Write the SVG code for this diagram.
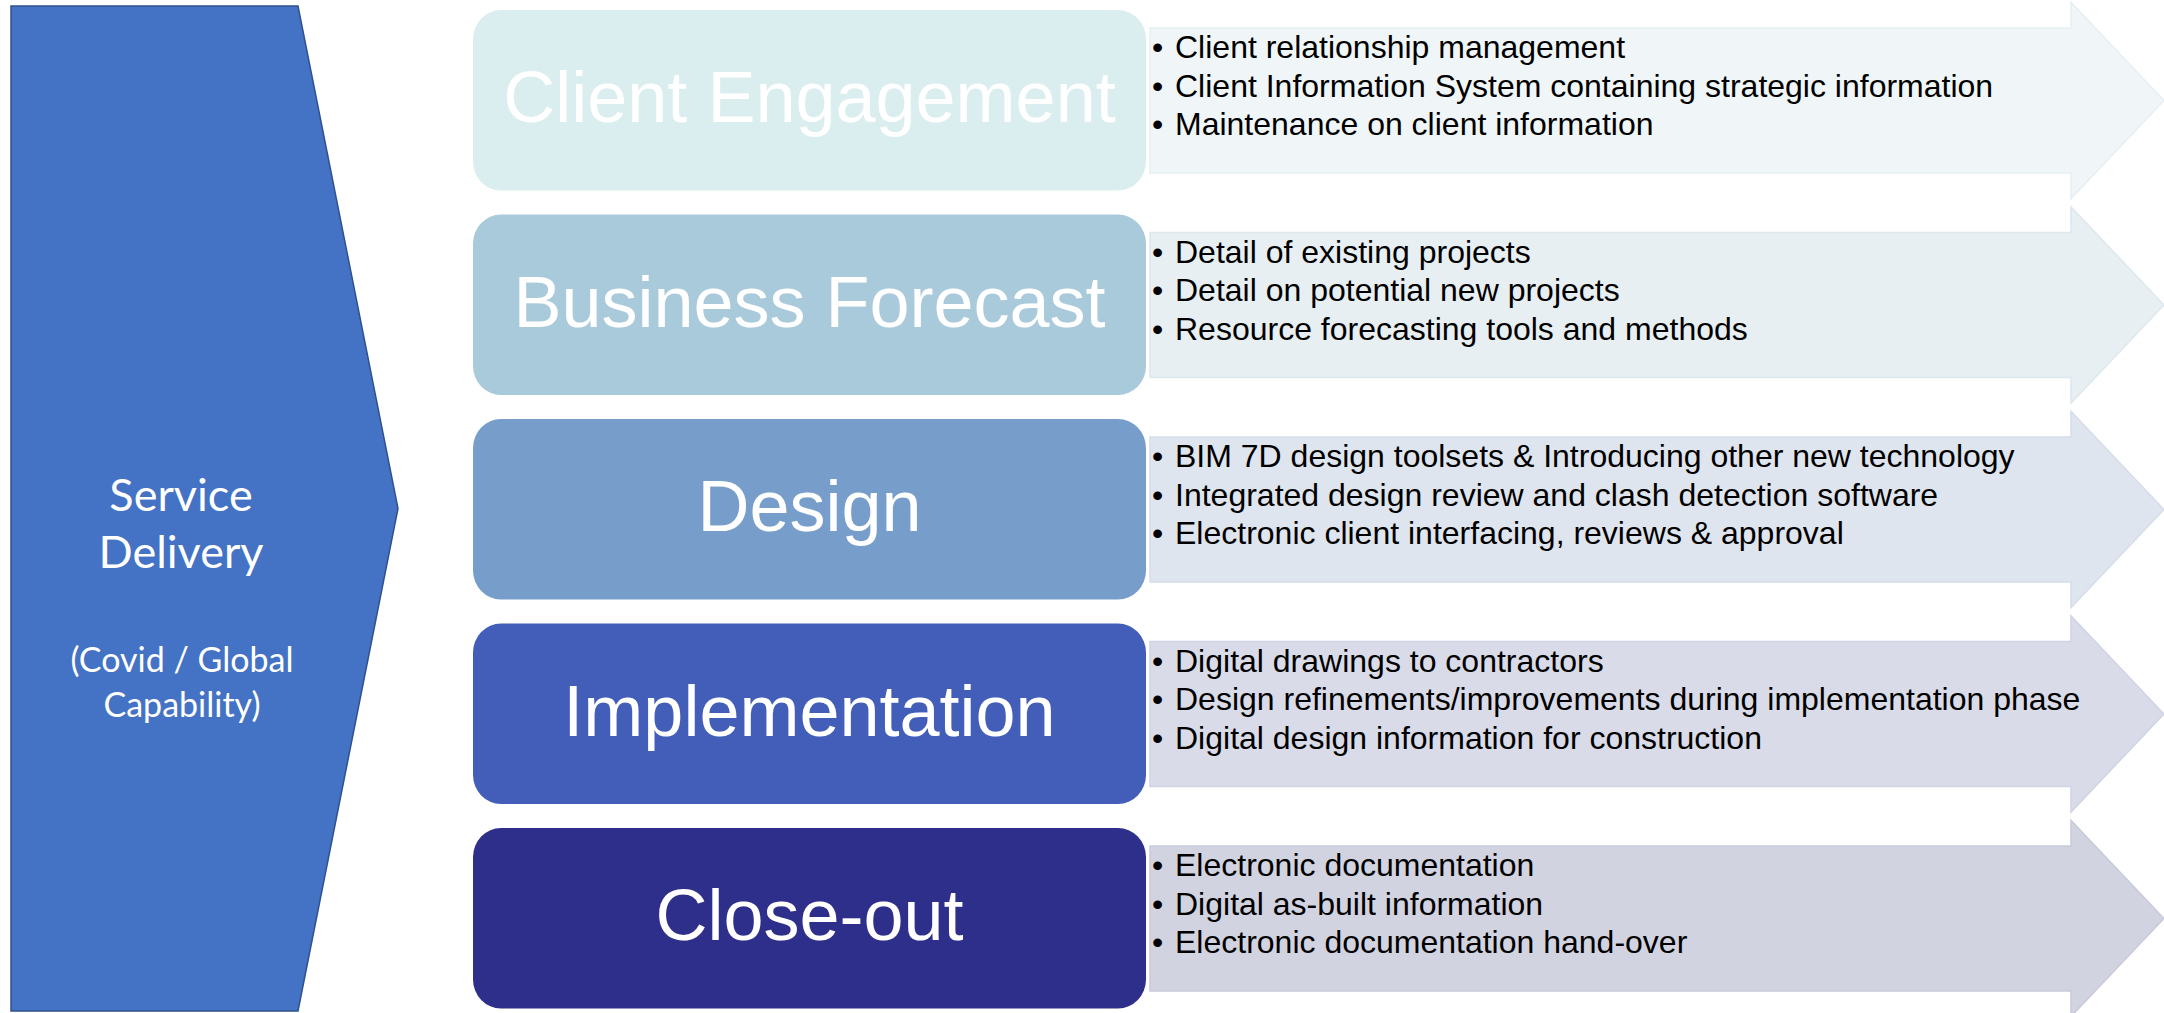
<svg xmlns="http://www.w3.org/2000/svg" width="2164" height="1013" viewBox="0 0 2164 1013">
<style>
.box-title{font-family:"Liberation Sans",Arial,sans-serif;font-size:72px;fill:#ffffff;text-anchor:middle}
.bul{font-family:"Liberation Sans",Arial,sans-serif;font-size:32px;fill:#000000}
.side1{font-family:Lato,"Open Sans",sans-serif;font-size:45px;fill:#ffffff;text-anchor:middle}
.side2{font-family:Lato,"Open Sans",sans-serif;font-size:34px;fill:#ffffff;text-anchor:middle}
.arrow{stroke-width:1.5}
</style>
<rect width="2164" height="1013" fill="#ffffff"/>
<g id="service-delivery">
<path d="M11,6 H298 L398,508.5 L298,1011 H11 Z" fill="#4472C4" stroke="#2F528F" stroke-width="1.5"/>
<text class="side1" x="181" y="511">Service</text>
<text class="side1" x="181" y="568">Delivery</text>
<text class="side2" x="182" y="672">(Covid / Global</text>
<text class="side2" x="182" y="717">Capability)</text>
</g>
<g id="connectors"></g>
<g id="arrow-1">
<path class="arrow" d="M1150,28 H2071 V2.5 L2164,100.5 L2071,198.5 V173 H1150 Z" fill="#F0F6F8" stroke="#E5EFF2"/>
<text class="bul" x="1152" y="58">•</text><text class="bul" x="1175" y="58">Client relationship management</text>
<text class="bul" x="1152" y="96.5">•</text><text class="bul" x="1175" y="96.5">Client Information System containing strategic information</text>
<text class="bul" x="1152" y="135">•</text><text class="bul" x="1175" y="135">Maintenance on client information</text>
</g>
<g id="arrow-2">
<path class="arrow" d="M1150,232.5 H2071 V207 L2164,305 L2071,403 V377.5 H1150 Z" fill="#E7EFF3" stroke="#DCE8EE"/>
<text class="bul" x="1152" y="262.5">•</text><text class="bul" x="1175" y="262.5">Detail of existing projects</text>
<text class="bul" x="1152" y="301">•</text><text class="bul" x="1175" y="301">Detail on potential new projects</text>
<text class="bul" x="1152" y="339.5">•</text><text class="bul" x="1175" y="339.5">Resource forecasting tools and methods</text>
</g>
<g id="arrow-3">
<path class="arrow" d="M1150,437 H2071 V411.5 L2164,509.5 L2071,607.5 V582 H1150 Z" fill="#DFE5EE" stroke="#D5DDE9"/>
<text class="bul" x="1152" y="467">•</text><text class="bul" x="1175" y="467">BIM 7D design toolsets &amp; Introducing other new technology</text>
<text class="bul" x="1152" y="505.5">•</text><text class="bul" x="1175" y="505.5">Integrated design review and clash detection software</text>
<text class="bul" x="1152" y="544">•</text><text class="bul" x="1175" y="544">Electronic client interfacing, reviews &amp; approval</text>
</g>
<g id="arrow-4">
<path class="arrow" d="M1150,641.5 H2071 V616 L2164,714 L2071,812 V786.5 H1150 Z" fill="#D9DCE8" stroke="#CFD3E3"/>
<text class="bul" x="1152" y="671.5">•</text><text class="bul" x="1175" y="671.5">Digital drawings to contractors</text>
<text class="bul" x="1152" y="710">•</text><text class="bul" x="1175" y="710">Design refinements/improvements during implementation phase</text>
<text class="bul" x="1152" y="748.5">•</text><text class="bul" x="1175" y="748.5">Digital design information for construction</text>
</g>
<g id="arrow-5">
<path class="arrow" d="M1150,846 H2071 V820.5 L2164,918.5 L2071,1016.5 V991 H1150 Z" fill="#D2D3E0" stroke="#C8CADA"/>
<text class="bul" x="1152" y="876">•</text><text class="bul" x="1175" y="876">Electronic documentation</text>
<text class="bul" x="1152" y="914.5">•</text><text class="bul" x="1175" y="914.5">Digital as-built information</text>
<text class="bul" x="1152" y="953">•</text><text class="bul" x="1175" y="953">Electronic documentation hand-over</text>
</g>
<g id="client-engagement">
<rect x="473" y="10" width="673" height="180.5" rx="28" ry="29" fill="#DAEDEF"/>
<text class="box-title" x="809.5" y="122">Client Engagement</text>
</g>
<g id="business-forecast">
<rect x="473" y="214.5" width="673" height="180.5" rx="28" ry="29" fill="#A8CADA"/>
<text class="box-title" x="809.5" y="326.5">Business Forecast</text>
</g>
<g id="design">
<rect x="473" y="419" width="673" height="180.5" rx="28" ry="29" fill="#779DCB"/>
<text class="box-title" x="809.5" y="531">Design</text>
</g>
<g id="implementation">
<rect x="473" y="623.5" width="673" height="180.5" rx="28" ry="29" fill="#425EB8"/>
<text class="box-title" x="809.5" y="735.5">Implementation</text>
</g>
<g id="close-out">
<rect x="473" y="828" width="673" height="180.5" rx="28" ry="29" fill="#2E2F8A"/>
<text class="box-title" x="809.5" y="940">Close-out</text>
</g>
</svg>
